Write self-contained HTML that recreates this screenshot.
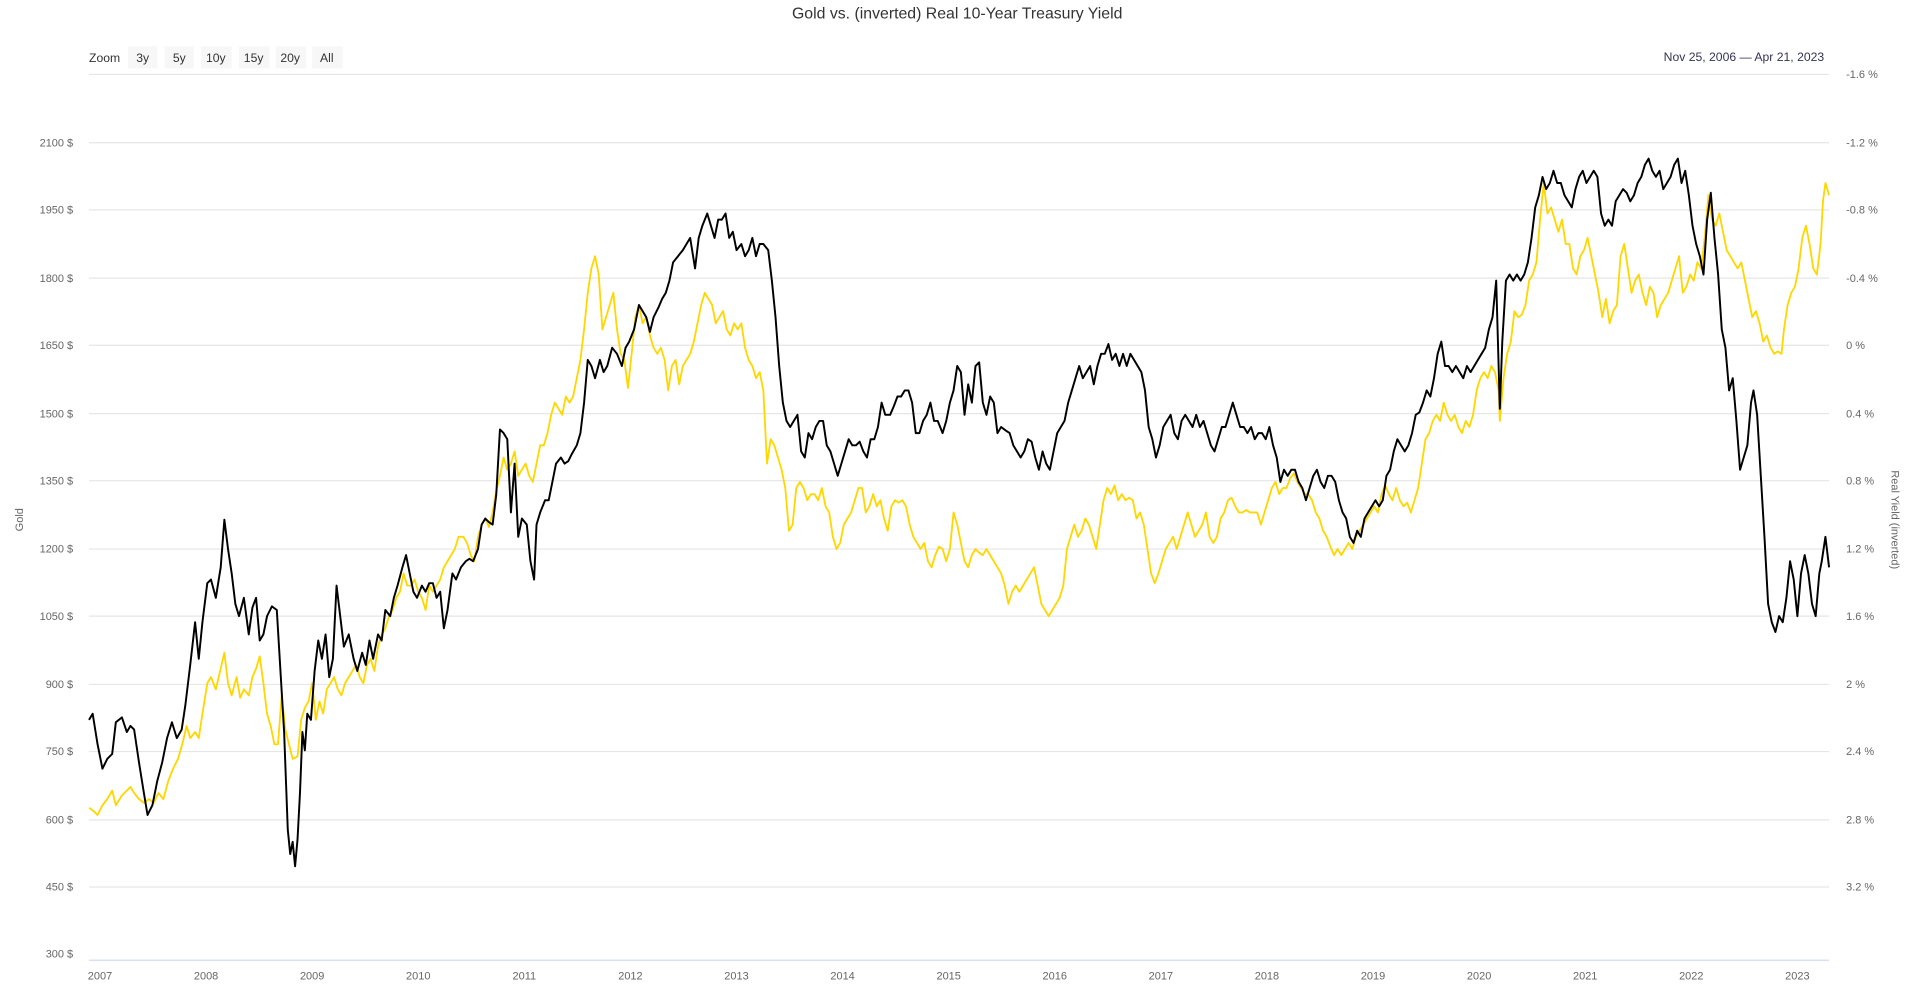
<!DOCTYPE html>
<html><head><meta charset="utf-8"><style>
html,body{margin:0;padding:0;background:#fff;width:1912px;height:998px;overflow:hidden}
svg{display:block}
text{font-family:"Liberation Sans",sans-serif}
</style></head><body>
<svg width="1912" height="998" viewBox="0 0 1568 818" preserveAspectRatio="none" xmlns="http://www.w3.org/2000/svg">
<text x="785" y="15" text-anchor="middle" font-size="13" fill="#333">Gold vs. (inverted) Real 10-Year Treasury Yield</text>
<g font-size="10" fill="#333">
<text x="73" y="51">Zoom</text>
<rect x="105" y="38" width="24" height="18" fill="#f7f7f7"/><text x="117" y="51" text-anchor="middle">3y</text>
<rect x="135" y="38" width="24" height="18" fill="#f7f7f7"/><text x="147" y="51" text-anchor="middle">5y</text>
<rect x="165" y="38" width="25" height="18" fill="#f7f7f7"/><text x="177" y="51" text-anchor="middle">10y</text>
<rect x="196" y="38" width="25" height="18" fill="#f7f7f7"/><text x="208" y="51" text-anchor="middle">15y</text>
<rect x="226" y="38" width="25" height="18" fill="#f7f7f7"/><text x="238" y="51" text-anchor="middle">20y</text>
<rect x="256" y="38" width="25" height="18" fill="#f7f7f7"/><text x="268" y="51" text-anchor="middle">All</text>
</g>
<text x="1496" y="50" text-anchor="end" font-size="10" fill="#335">Nov 25, 2006  —  Apr 21, 2023</text>
<g stroke="#e6e6e6" stroke-width="1">
<line x1="73" x2="1500" y1="61" y2="61"/><line x1="73" x2="1500" y1="117" y2="117"/><line x1="73" x2="1500" y1="172" y2="172"/><line x1="73" x2="1500" y1="228" y2="228"/><line x1="73" x2="1500" y1="283" y2="283"/><line x1="73" x2="1500" y1="339" y2="339"/><line x1="73" x2="1500" y1="394" y2="394"/><line x1="73" x2="1500" y1="450" y2="450"/><line x1="73" x2="1500" y1="505" y2="505"/><line x1="73" x2="1500" y1="561" y2="561"/><line x1="73" x2="1500" y1="616" y2="616"/><line x1="73" x2="1500" y1="672" y2="672"/><line x1="73" x2="1500" y1="727" y2="727"/>
</g>
<line x1="73" x2="1500" y1="787" y2="787" stroke="#ccd6eb"/>
<g font-size="9" fill="#666" text-anchor="end">
<text x="60" y="120">2100 $</text><text x="60" y="175">1950 $</text><text x="60" y="231">1800 $</text><text x="60" y="286">1650 $</text><text x="60" y="342">1500 $</text><text x="60" y="397">1350 $</text><text x="60" y="453">1200 $</text><text x="60" y="508">1050 $</text><text x="60" y="564">900 $</text><text x="60" y="619">750 $</text><text x="60" y="675">600 $</text><text x="60" y="730">450 $</text><text x="60" y="785">300 $</text>
</g>
<g font-size="9" fill="#666">
<text x="1514" y="64">-1.6 %</text><text x="1514" y="120">-1.2 %</text><text x="1514" y="175">-0.8 %</text><text x="1514" y="231">-0.4 %</text><text x="1514" y="286">0 %</text><text x="1514" y="342">0.4 %</text><text x="1514" y="397">0.8 %</text><text x="1514" y="453">1.2 %</text><text x="1514" y="508">1.6 %</text><text x="1514" y="564">2 %</text><text x="1514" y="619">2.4 %</text><text x="1514" y="675">2.8 %</text><text x="1514" y="730">3.2 %</text>
</g>
<text transform="translate(19,426) rotate(-90)" text-anchor="middle" font-size="9" fill="#666">Gold</text>
<text transform="translate(1551,426) rotate(90)" text-anchor="middle" font-size="9" fill="#666">Real Yield (inverted)</text>
<g font-size="9" fill="#666" text-anchor="middle">
<text x="82" y="803">2007</text><text x="169" y="803">2008</text><text x="256" y="803">2009</text><text x="343" y="803">2010</text><text x="430" y="803">2011</text><text x="517" y="803">2012</text><text x="604" y="803">2013</text><text x="691" y="803">2014</text><text x="778" y="803">2015</text><text x="865" y="803">2016</text><text x="952" y="803">2017</text><text x="1039" y="803">2018</text><text x="1126" y="803">2019</text><text x="1213" y="803">2020</text><text x="1300" y="803">2021</text><text x="1387" y="803">2022</text><text x="1474" y="803">2023</text>
</g>
<polyline fill="none" stroke="#ffd700" stroke-width="1.5" stroke-linejoin="round" points="73,662 77,665 80,668 84,660 88,655 92,648 95,660 100,652 104,648 107,645 110,650 114,655 118,658 122,655 126,658 130,650 134,655 138,640 142,630 146,622 150,608 153,595 156,605 160,600 163,605 166,585 170,560 173,555 177,565 181,548 184,535 187,560 190,570 194,555 197,572 200,565 204,570 207,555 210,548 213,538 216,560 219,585 222,595 225,610 228,610 231,570 234,598 237,610 240,622 244,620 247,590 250,580 253,575 256,560 259,590 262,575 265,585 268,565 271,560 274,555 277,565 280,570 283,560 286,555 289,550 292,545 295,555 298,560 301,545 304,540 307,550 310,530 313,520 316,515 319,505 322,500 325,490 328,485 331,470 334,480 337,480 340,475 343,485 346,490 349,500 352,480 355,485 358,480 361,475 364,465 367,460 370,455 373,450 376,440 380,440 383,445 386,455 389,460 392,440 395,430 398,425 401,432 404,420 407,402 410,390 413,375 416,385 419,380 422,370 425,390 428,385 431,380 434,390 437,395 440,380 443,365 446,365 449,355 452,340 455,330 458,335 461,340 464,325 467,330 470,325 473,310 476,295 479,270 482,240 485,220 488,210 491,225 494,270 497,260 500,250 503,240 506,270 509,290 512,295 515,318 518,290 521,260 524,250 527,265 530,260 533,275 536,285 539,290 542,285 545,295 548,320 551,300 554,295 557,315 560,300 563,295 566,290 569,280 572,265 575,250 578,240 581,245 584,250 587,265 590,260 593,255 596,270 599,275 602,265 605,270 608,265 611,285 614,295 617,300 620,310 623,305 626,320 629,380 632,360 635,365 638,375 641,385 644,400 647,435 650,430 653,400 656,395 659,400 662,410 665,405 668,405 671,410 674,400 677,415 680,420 683,440 686,450 689,445 692,430 695,425 698,420 701,410 704,400 707,400 710,420 713,415 716,405 719,415 722,410 725,425 728,435 731,415 734,410 737,412 740,410 743,415 746,430 749,440 752,445 755,450 758,445 761,460 764,465 767,455 770,448 773,450 776,460 779,450 782,420 785,430 788,445 791,460 794,465 797,455 800,450 803,453 806,455 809,450 812,455 815,460 818,465 821,470 824,480 827,495 830,485 833,480 836,485 839,480 842,475 845,470 848,465 851,480 854,495 857,500 860,505 863,500 866,495 869,490 872,480 875,450 878,440 881,430 884,440 887,435 890,425 893,430 896,440 899,450 902,430 905,410 908,400 911,405 914,398 917,410 920,405 923,410 926,408 929,410 932,425 935,420 938,430 941,450 944,470 947,478 950,470 953,460 956,450 959,445 962,440 965,450 968,440 971,430 974,420 977,430 980,440 983,435 986,430 989,420 992,440 995,445 998,440 1001,425 1004,420 1007,410 1010,408 1013,415 1016,420 1019,420 1022,418 1025,420 1028,420 1031,420 1034,430 1037,420 1040,410 1043,400 1046,395 1049,405 1052,400 1055,400 1058,392 1061,388 1064,395 1067,400 1070,405 1073,405 1076,410 1079,420 1082,425 1085,435 1088,440 1091,448 1094,455 1097,450 1100,455 1103,450 1106,445 1109,450 1112,440 1115,435 1118,430 1121,425 1124,420 1127,415 1130,420 1133,405 1136,398 1139,405 1142,410 1145,400 1148,410 1151,415 1154,412 1157,420 1160,410 1163,400 1166,380 1169,360 1172,355 1175,345 1178,340 1181,345 1184,330 1187,340 1190,345 1193,340 1196,350 1199,355 1202,345 1205,350 1208,340 1211,320 1214,310 1217,305 1220,310 1223,300 1226,305 1229,320 1230,345 1233,310 1236,290 1239,280 1242,255 1245,260 1248,258 1251,250 1254,230 1257,225 1260,215 1263,180 1266,150 1269,175 1272,170 1275,180 1278,190 1281,180 1284,200 1287,200 1290,220 1293,225 1296,210 1299,205 1302,195 1305,210 1308,225 1311,240 1314,260 1317,245 1320,265 1323,255 1326,250 1329,210 1332,200 1335,220 1338,240 1341,230 1344,225 1347,240 1350,250 1353,235 1356,240 1359,260 1362,250 1365,245 1368,240 1371,230 1374,220 1377,210 1380,240 1383,235 1386,225 1389,230 1392,215 1395,220 1398,195 1401,160 1404,180 1407,185 1410,175 1413,190 1416,205 1419,210 1422,215 1425,220 1428,215 1431,230 1434,245 1437,260 1440,255 1443,265 1446,280 1449,275 1452,285 1455,290 1458,288 1461,290 1463,270 1466,250 1469,240 1472,235 1475,220 1478,195 1481,185 1484,200 1487,220 1490,225 1493,200 1495,165 1497,150 1500,160"/>
<polyline fill="none" stroke="#000" stroke-width="1.6" stroke-linejoin="round" points="73,590 76,585 80,610 84,630 88,622 92,618 95,592 100,588 104,600 107,595 110,598 114,625 118,650 121,668 125,660 129,640 133,625 137,605 141,592 145,605 149,598 152,578 156,545 160,510 163,540 166,510 170,478 173,475 177,490 181,465 184,426 187,450 190,470 193,495 196,505 200,490 204,520 207,498 210,490 213,525 216,520 219,505 223,497 227,500 230,550 233,600 236,680 238,700 240,690 242,710 244,688 246,650 248,600 250,615 252,585 255,590 258,550 261,525 264,540 267,520 270,555 273,540 276,480 279,505 282,530 286,520 290,540 293,550 297,535 300,545 303,525 306,540 310,520 313,525 316,500 320,505 323,490 326,480 330,465 333,455 336,470 339,485 342,490 346,480 349,485 352,478 355,478 358,490 361,485 364,515 367,500 371,470 374,475 378,465 382,460 385,458 388,460 392,450 395,430 398,425 401,428 404,430 407,405 410,352 413,355 416,360 419,420 422,380 425,440 428,425 432,430 435,460 438,475 440,430 443,420 447,410 450,410 453,395 456,380 460,375 463,380 466,378 469,372 473,365 476,355 479,330 482,295 485,300 488,310 492,295 495,305 498,300 502,285 506,290 510,300 513,285 516,280 520,270 524,250 527,255 530,260 533,272 536,260 540,252 543,245 546,240 549,230 552,215 556,210 560,205 563,200 566,195 570,220 573,195 576,185 580,175 583,185 586,195 589,180 592,180 595,175 598,195 601,190 604,205 608,200 611,210 614,205 617,195 620,210 623,200 626,200 630,205 633,230 636,260 639,300 642,330 645,345 648,350 651,345 654,340 657,370 660,375 663,355 666,360 669,350 672,345 675,345 678,365 681,370 684,380 687,390 690,380 693,370 696,360 699,365 702,365 705,362 708,370 711,375 714,360 717,360 720,350 723,330 726,340 730,340 733,333 736,325 739,325 742,320 745,320 748,330 751,355 754,355 757,345 760,340 763,330 766,345 769,345 773,355 776,345 779,330 782,320 785,300 788,305 791,340 794,315 797,330 800,300 803,297 806,330 809,340 812,325 815,330 818,355 821,350 825,353 828,355 831,365 834,370 837,375 840,370 843,360 846,362 849,375 852,385 855,370 858,380 861,385 864,370 867,355 870,350 873,345 876,330 879,320 882,310 885,300 888,310 891,305 894,300 897,315 900,300 903,290 906,290 909,282 912,295 915,290 918,300 921,290 924,300 927,290 930,295 933,300 936,305 939,320 942,350 945,360 948,375 951,365 954,350 957,345 960,340 963,355 966,360 969,345 972,340 975,345 978,350 981,340 984,350 987,345 990,355 993,365 996,370 999,360 1002,350 1005,350 1008,340 1011,330 1014,340 1017,350 1020,350 1023,355 1026,350 1029,360 1032,355 1035,355 1038,360 1041,350 1044,365 1047,375 1050,395 1053,385 1056,390 1059,385 1062,385 1065,395 1068,400 1071,410 1074,400 1077,390 1080,385 1083,395 1086,400 1089,390 1092,390 1095,395 1098,410 1101,420 1104,425 1107,440 1110,445 1113,435 1116,440 1119,425 1122,420 1125,415 1128,410 1131,415 1134,410 1137,390 1140,385 1143,370 1146,360 1149,365 1152,370 1155,365 1158,355 1161,340 1164,338 1167,330 1170,320 1173,325 1176,310 1179,290 1182,280 1185,300 1188,300 1191,305 1194,300 1197,305 1200,310 1203,300 1206,305 1209,300 1212,295 1215,290 1218,285 1221,270 1224,260 1227,230 1230,335 1232,280 1235,230 1238,225 1241,230 1244,225 1247,230 1250,225 1253,215 1256,195 1259,170 1262,160 1265,145 1268,155 1271,150 1274,140 1277,150 1280,150 1283,160 1286,165 1289,170 1292,155 1295,145 1298,140 1301,150 1304,145 1307,140 1310,145 1313,175 1316,185 1319,180 1322,185 1325,165 1328,160 1331,155 1334,158 1337,165 1340,160 1343,150 1346,145 1349,135 1352,130 1355,140 1358,145 1361,140 1364,155 1367,150 1370,145 1373,135 1376,130 1379,150 1382,140 1385,160 1388,185 1391,200 1394,210 1397,225 1400,180 1403,158 1406,195 1409,225 1412,270 1415,285 1418,320 1421,310 1424,345 1427,385 1430,375 1433,365 1436,330 1438,320 1441,340 1444,390 1447,440 1450,495 1453,510 1456,518 1459,505 1462,510 1465,490 1468,460 1471,475 1474,505 1477,470 1480,455 1483,470 1486,495 1489,505 1492,470 1494,460 1497,440 1500,465"/>
</svg>
</body></html>
